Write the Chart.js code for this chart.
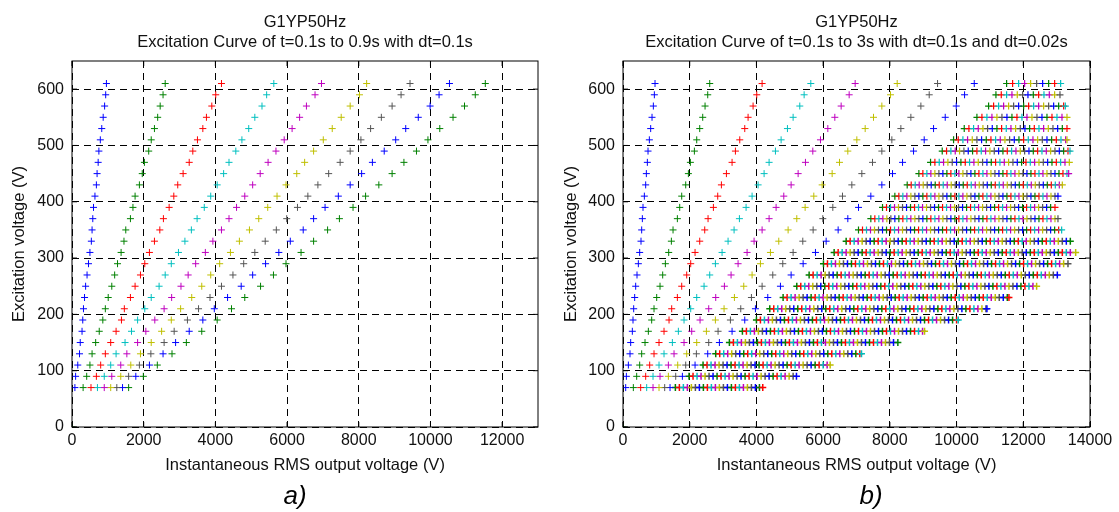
<!DOCTYPE html>
<html>
<head>
<meta charset="utf-8">
<title>G1YP50Hz excitation curves</title>
<script src="https://cdn.jsdelivr.net/npm/chart.js@4"></script>
<style>
  body { margin: 0; background: #fff; }
  .panel { position: absolute; top: 0; }
  #chartA { left: 0; }
  #chartB { left: 560px; }
</style>
</head>
<body>
<canvas id="chartA" class="panel" width="560" height="512"></canvas>
<canvas id="chartB" class="panel" width="559" height="512"></canvas>
<script>
// excitation voltage rows (V), bottom to top
const voltRows = [70, 90, 110, 130, 150, 170, 190, 210, 230, 250, 270, 290, 310, 330,
  350, 370, 390, 410, 430, 450, 470, 490, 510, 530, 550, 570, 590, 610];

// RMS output voltage (V) for each time step, one value per row
const t01 = [81, 101, 161, 210, 230, 280, 300, 320, 350, 380, 420, 460, 500, 540, 560, 580, 600, 640, 680, 700, 730, 750, 790, 830, 870, 910, 940, 960];
const t02 = [310, 410, 500, 560, 660, 760, 860, 930, 1010, 1110, 1190, 1270, 1370, 1450, 1500, 1630, 1700, 1760, 1880, 1960, 2020, 2140, 2210, 2300, 2390, 2460, 2540, 2600];
const t03 = [530, 680, 800, 930, 1080, 1230, 1380, 1460, 1630, 1760, 1910, 2030, 2160, 2300, 2450, 2550, 2710, 2840, 2950, 3100, 3270, 3370, 3500, 3650, 3750, 3900, 4010, 4170];
const t04 = [710, 900, 1080, 1230, 1480, 1660, 1830, 2030, 2210, 2430, 2600, 2770, 2970, 3150, 3330, 3490, 3690, 3870, 4050, 4230, 4380, 4570, 4740, 4930, 5100, 5300, 5430, 5630];
const t05 = [900, 1110, 1360, 1530, 1830, 2060, 2310, 2570, 2780, 3040, 3240, 3450, 3720, 3930, 4170, 4380, 4590, 4820, 5040, 5250, 5470, 5690, 5920, 6140, 6350, 6540, 6780, 6960];
const t06 = [1080, 1360, 1640, 1910, 2210, 2500, 2770, 3030, 3340, 3620, 3870, 4120, 4420, 4670, 4950, 5210, 5460, 5720, 5970, 6270, 6490, 6740, 7010, 7260, 7510, 7760, 8020, 8220];
const t07 = [1250, 1580, 1880, 2200, 2570, 2850, 3220, 3530, 3850, 4170, 4490, 4790, 5100, 5390, 5700, 5990, 6290, 6580, 6860, 7160, 7480, 7760, 8060, 8330, 8630, 8930, 9180, 9430];
const t08 = [1410, 1780, 2160, 2540, 2890, 3270, 3650, 3970, 4340, 4720, 5040, 5400, 5770, 6090, 6450, 6740, 7060, 7430, 7760, 8080, 8380, 8710, 9030, 9310, 9660, 9990, 10240, 10530];
const t09 = [1580, 1990, 2380, 2790, 3190, 3620, 4050, 4450, 4820, 5260, 5620, 5970, 6390, 6740, 7130, 7460, 7840, 8190, 8560, 8930, 9260, 9610, 9930, 10260, 10630, 10950, 11250, 11530];

// panel b, dt=0.02s part: crowded markers on each row (V)
const band070 = [1570, 1690, 1810, 1930, 2050, 2170, 2290, 2410, 2530, 2650, 2770, 2890, 3010, 3130, 3250, 3370, 3490, 3610, 3730, 3850, 3970, 4090, 4190];
const band090 = [1980, 2100, 2220, 2340, 2460, 2580, 2700, 2820, 2940, 3060, 3180, 3300, 3420, 3540, 3660, 3780, 3900, 4020, 4140, 4260, 4380, 4500, 4620, 4740, 4860, 4980, 5100, 5200];
const band110 = [2400, 2520, 2640, 2760, 2880, 3000, 3120, 3240, 3360, 3480, 3600, 3720, 3840, 3960, 4080, 4200, 4320, 4440, 4560, 4680, 4800, 4920, 5040, 5160, 5280, 5400, 5520, 5640, 5760, 5880, 6000, 6120, 6210];
const band130 = [2780, 2900, 3020, 3140, 3260, 3380, 3500, 3620, 3740, 3860, 3980, 4100, 4220, 4340, 4460, 4580, 4700, 4820, 4940, 5060, 5180, 5300, 5420, 5540, 5660, 5780, 5900, 6020, 6140, 6260, 6380, 6500, 6620, 6740, 6860, 6980, 7100, 7150];
const band150 = [3190, 3310, 3430, 3550, 3670, 3790, 3910, 4030, 4150, 4270, 4390, 4510, 4630, 4750, 4870, 4990, 5110, 5230, 5350, 5470, 5590, 5710, 5830, 5950, 6070, 6190, 6310, 6430, 6550, 6670, 6790, 6910, 7030, 7150, 7270, 7390, 7510, 7630, 7750, 7870, 7990, 8110, 8240];
const band170 = [3580, 3700, 3820, 3940, 4060, 4180, 4300, 4420, 4540, 4660, 4780, 4900, 5020, 5140, 5260, 5380, 5500, 5620, 5740, 5860, 5980, 6100, 6220, 6340, 6460, 6580, 6700, 6820, 6940, 7060, 7180, 7300, 7420, 7540, 7660, 7780, 7900, 8020, 8140, 8260, 8380, 8500, 8620, 8740, 8860, 8980, 9040];
const band190 = [4000, 4120, 4240, 4360, 4480, 4600, 4720, 4840, 4960, 5080, 5200, 5320, 5440, 5560, 5680, 5800, 5920, 6040, 6160, 6280, 6400, 6520, 6640, 6760, 6880, 7000, 7120, 7240, 7360, 7480, 7600, 7720, 7840, 7960, 8080, 8200, 8320, 8440, 8560, 8680, 8800, 8920, 9040, 9160, 9280, 9400, 9520, 9640, 9760, 9880, 10000, 10050];
const band210 = [4400, 4520, 4640, 4760, 4880, 5000, 5120, 5240, 5360, 5480, 5600, 5720, 5840, 5960, 6080, 6200, 6320, 6440, 6560, 6680, 6800, 6920, 7040, 7160, 7280, 7400, 7520, 7640, 7760, 7880, 8000, 8120, 8240, 8360, 8480, 8600, 8720, 8840, 8960, 9080, 9200, 9320, 9440, 9560, 9680, 9800, 9920, 10040, 10160, 10280, 10400, 10520, 10640, 10760, 10880, 10910];
const band230 = [4800, 4920, 5040, 5160, 5280, 5400, 5520, 5640, 5760, 5880, 6000, 6120, 6240, 6360, 6480, 6600, 6720, 6840, 6960, 7080, 7200, 7320, 7440, 7560, 7680, 7800, 7920, 8040, 8160, 8280, 8400, 8520, 8640, 8760, 8880, 9000, 9120, 9240, 9360, 9480, 9600, 9720, 9840, 9960, 10080, 10200, 10320, 10440, 10560, 10680, 10800, 10920, 11040, 11160, 11280, 11400, 11520, 11570];
const band250 = [5210, 5330, 5450, 5570, 5690, 5810, 5930, 6050, 6170, 6290, 6410, 6530, 6650, 6770, 6890, 7010, 7130, 7250, 7370, 7490, 7610, 7730, 7850, 7970, 8090, 8210, 8330, 8450, 8570, 8690, 8810, 8930, 9050, 9170, 9290, 9410, 9530, 9650, 9770, 9890, 10010, 10130, 10250, 10370, 10490, 10610, 10730, 10850, 10970, 11090, 11210, 11330, 11450, 11570, 11690, 11810, 11930, 12050, 12170, 12290, 12400];
const band270 = [5580, 5700, 5820, 5940, 6060, 6180, 6300, 6420, 6540, 6660, 6780, 6900, 7020, 7140, 7260, 7380, 7500, 7620, 7740, 7860, 7980, 8100, 8220, 8340, 8460, 8580, 8700, 8820, 8940, 9060, 9180, 9300, 9420, 9540, 9660, 9780, 9900, 10020, 10140, 10260, 10380, 10500, 10620, 10740, 10860, 10980, 11100, 11220, 11340, 11460, 11580, 11700, 11820, 11940, 12060, 12180, 12300, 12420, 12540, 12660, 12780, 12900, 13020];
const band290 = [6010, 6130, 6250, 6370, 6490, 6610, 6730, 6850, 6970, 7090, 7210, 7330, 7450, 7570, 7690, 7810, 7930, 8050, 8170, 8290, 8410, 8530, 8650, 8770, 8890, 9010, 9130, 9250, 9370, 9490, 9610, 9730, 9850, 9970, 10090, 10210, 10330, 10450, 10570, 10690, 10810, 10930, 11050, 11170, 11290, 11410, 11530, 11650, 11770, 11890, 12010, 12130, 12250, 12370, 12490, 12610, 12730, 12850, 12970, 13090, 13210, 13340];
const band310 = [6330, 6450, 6570, 6690, 6810, 6930, 7050, 7170, 7290, 7410, 7530, 7650, 7770, 7890, 8010, 8130, 8250, 8370, 8490, 8610, 8730, 8850, 8970, 9090, 9210, 9330, 9450, 9570, 9690, 9810, 9930, 10050, 10170, 10290, 10410, 10530, 10650, 10770, 10890, 11010, 11130, 11250, 11370, 11490, 11610, 11730, 11850, 11970, 12090, 12210, 12330, 12450, 12570, 12690, 12810, 12930, 13050, 13170, 13290, 13410, 13570];
const band330 = [6690, 6810, 6930, 7050, 7170, 7290, 7410, 7530, 7650, 7770, 7890, 8010, 8130, 8250, 8370, 8490, 8610, 8730, 8850, 8970, 9090, 9210, 9330, 9450, 9570, 9690, 9810, 9930, 10050, 10170, 10290, 10410, 10530, 10650, 10770, 10890, 11010, 11130, 11250, 11370, 11490, 11610, 11730, 11850, 11970, 12090, 12210, 12330, 12450, 12570, 12690, 12810, 12930, 13050, 13170, 13290, 13410];
const band350 = [7060, 7180, 7300, 7420, 7540, 7660, 7780, 7900, 8020, 8140, 8260, 8380, 8500, 8620, 8740, 8860, 8980, 9100, 9220, 9340, 9460, 9580, 9700, 9820, 9940, 10060, 10180, 10300, 10420, 10540, 10660, 10780, 10900, 11020, 11140, 11260, 11380, 11500, 11620, 11740, 11860, 11980, 12100, 12220, 12340, 12460, 12580, 12700, 12820, 12940, 13060, 13150];
const band370 = [7430, 7550, 7670, 7790, 7910, 8030, 8150, 8270, 8390, 8510, 8630, 8750, 8870, 8990, 9110, 9230, 9350, 9470, 9590, 9710, 9830, 9950, 10070, 10190, 10310, 10430, 10550, 10670, 10790, 10910, 11030, 11150, 11270, 11390, 11510, 11630, 11750, 11870, 11990, 12110, 12230, 12350, 12470, 12590, 12710, 12830, 12950, 13040];
const band390 = [7780, 7900, 8020, 8140, 8260, 8380, 8500, 8620, 8740, 8860, 8980, 9100, 9220, 9340, 9460, 9580, 9700, 9820, 9940, 10060, 10180, 10300, 10420, 10540, 10660, 10780, 10900, 11020, 11140, 11260, 11380, 11500, 11620, 11740, 11860, 11980, 12100, 12220, 12340, 12460, 12580, 12700, 12820, 12950];
const band410 = [8150, 8270, 8390, 8510, 8630, 8750, 8870, 8990, 9110, 9230, 9350, 9470, 9590, 9710, 9830, 9950, 10070, 10190, 10310, 10430, 10550, 10670, 10790, 10910, 11030, 11150, 11270, 11390, 11510, 11630, 11750, 11870, 11990, 12110, 12230, 12350, 12470, 12590, 12710, 12830, 12950, 13040];
const band430 = [8520, 8640, 8760, 8880, 9000, 9120, 9240, 9360, 9480, 9600, 9720, 9840, 9960, 10080, 10200, 10320, 10440, 10560, 10680, 10800, 10920, 11040, 11160, 11280, 11400, 11520, 11640, 11760, 11880, 12000, 12120, 12240, 12360, 12480, 12600, 12720, 12840, 12960, 13080, 13170];
const band450 = [8870, 8990, 9110, 9230, 9350, 9470, 9590, 9710, 9830, 9950, 10070, 10190, 10310, 10430, 10550, 10670, 10790, 10910, 11030, 11150, 11270, 11390, 11510, 11630, 11750, 11870, 11990, 12110, 12230, 12350, 12470, 12590, 12710, 12830, 12950, 13070, 13190, 13310, 13360];
const band470 = [9220, 9350, 9480, 9610, 9740, 9870, 10000, 10130, 10260, 10390, 10520, 10650, 10780, 10910, 11040, 11170, 11300, 11430, 11560, 11690, 11820, 11950, 12080, 12210, 12340, 12470, 12600, 12730, 12860, 12990, 13120, 13250, 13380];
const band490 = [9570, 9700, 9830, 9960, 10090, 10220, 10350, 10480, 10610, 10740, 10870, 11000, 11130, 11260, 11390, 11520, 11650, 11780, 11910, 12040, 12170, 12300, 12430, 12560, 12690, 12820, 12950, 13080, 13210, 13340, 13400];
const band510 = [9910, 10050, 10190, 10330, 10470, 10610, 10750, 10890, 11030, 11170, 11310, 11450, 11590, 11730, 11870, 12010, 12150, 12290, 12430, 12570, 12710, 12850, 12990, 13130, 13270, 13310];
const band530 = [10230, 10370, 10510, 10650, 10790, 10930, 11070, 11210, 11350, 11490, 11630, 11770, 11910, 12050, 12190, 12330, 12470, 12610, 12750, 12890, 13030, 13170, 13310];
const band550 = [10610, 10760, 10910, 11060, 11210, 11360, 11510, 11660, 11810, 11960, 12110, 12260, 12410, 12560, 12710, 12860, 13010, 13160, 13310];
const band570 = [10960, 11110, 11260, 11410, 11560, 11710, 11860, 12010, 12160, 12310, 12460, 12610, 12760, 12910, 13060, 13210, 13260];
const band590 = [11180, 11340, 11500, 11660, 11820, 11980, 12140, 12300, 12460, 12620, 12780, 12940, 13100];
const band610 = [11500, 11680, 11860, 12040, 12220, 12400, 12580, 12760, 12940, 13120];

const xTicksA = [0, 2000, 4000, 6000, 8000, 10000, 12000];
const xTicksB = [0, 2000, 4000, 6000, 8000, 10000, 12000, 14000];
const yTicks = [0, 100, 200, 300, 400, 500, 600];

// matlab default order: b g r c m y k
const lineColors = ['#0000ff', '#008000', '#ff0000', '#00bfbf', '#bf00bf', '#bfbf00', '#555555'];
const FONT = '"Liberation Sans", Arial, Helvetica, sans-serif';

const rowPoints = (xs) => xs.map((x, i) => ({ x: x, y: voltRows[i] }));

const crossSet = (points, color, width) => ({
  data: points,
  pointStyle: 'cross',
  pointRadius: 3.5,
  pointHoverRadius: 3.5,
  pointBorderWidth: width || 1,
  pointBorderColor: color,
  pointBackgroundColor: color,
  showLine: false
});

const framePlugin = {
  id: 'frame',
  afterDraw(chart, args, opts) {
    const { ctx, chartArea: area, scales } = chart;
    ctx.save();
    ctx.strokeStyle = '#000';
    ctx.lineWidth = 1;
    ctx.strokeRect(area.left, area.top, area.right - area.left, area.bottom - area.top);
    ctx.beginPath();
    scales.x.ticks.forEach((t) => {
      const px = scales.x.getPixelForValue(t.value);
      ctx.moveTo(px, area.bottom); ctx.lineTo(px, area.bottom - 5);
      ctx.moveTo(px, area.top); ctx.lineTo(px, area.top + 5);
    });
    scales.y.ticks.forEach((t) => {
      const py = scales.y.getPixelForValue(t.value);
      ctx.moveTo(area.left, py); ctx.lineTo(area.left + 5, py);
      ctx.moveTo(area.right, py); ctx.lineTo(area.right - 5, py);
    });
    ctx.stroke();
    ctx.font = 'italic 26px ' + FONT;
    ctx.fillStyle = '#000';
    ctx.textAlign = 'center';
    ctx.textBaseline = 'middle';
    ctx.fillText(opts.caption, opts.captionX, 497);
    ctx.restore();
  }
};

function makeOptions(cfg) {
  return {
    responsive: false,
    animation: false,
    events: [],
    layout: { padding: { left: cfg.padLeft, right: cfg.padRight, top: 0, bottom: 0 } },
    plugins: {
      legend: { display: false },
      tooltip: { enabled: false },
      title: {
        display: true,
        fullSize: false,
        text: cfg.title,
        color: '#111',
        font: { family: FONT, size: 16.5, weight: 'normal', lineHeight: 1.2 },
        padding: { top: 12.8, bottom: 8.6 }
      },
      frame: { caption: cfg.caption, captionX: cfg.captionX }
    },
    scales: {
      x: {
        type: 'linear',
        min: 0,
        max: cfg.xMax,
        afterBuildTicks: (s) => { s.ticks = cfg.xTicks.map((v) => ({ value: v })); },
        afterFit: (s) => { s.height = 85; },
        ticks: {
          autoSkip: false, maxRotation: 0, padding: 4, color: '#111',
          font: { family: FONT, size: 16 },
          callback: (v) => String(v)
        },
        grid: { color: '#000', lineWidth: 1, drawTicks: false },
        border: { display: false, dash: [7, 5] },
        title: {
          display: true,
          text: 'Instantaneous RMS output voltage (V)',
          color: '#111',
          font: { family: FONT, size: 16.5 },
          padding: { top: 0, bottom: 37 }
        }
      },
      y: {
        type: 'linear',
        min: 0,
        max: 650,
        afterBuildTicks: (s) => { s.ticks = yTicks.map((v) => ({ value: v })); },
        afterFit: (s) => { s.width = cfg.yWidth; },
        ticks: {
          autoSkip: false, padding: 8, color: '#111',
          font: { family: FONT, size: 16 },
          callback: (v) => String(v)
        },
        grid: { color: '#000', lineWidth: 1, drawTicks: false },
        border: { display: false, dash: [7, 5] },
        title: {
          display: true,
          text: 'Excitation voltage (V)',
          color: '#111',
          font: { family: FONT, size: 16.5 },
          padding: { top: 0, bottom: 0 }
        }
      }
    }
  };
}

// panel a: t = 0.1 .. 0.9 s
const seriesA = [t01, t02, t03, t04, t05, t06, t07, t08, t09];
const datasetsA = [crossSet([{ x: 0, y: 0 }], lineColors[1])]
  .concat(seriesA.map((xs, k) => crossSet(rowPoints(xs), lineColors[k % 7])));

new Chart(document.getElementById('chartA'), {
  type: 'scatter',
  data: { datasets: datasetsA },
  options: makeOptions({
    title: ['G1YP50Hz', 'Excitation Curve of t=0.1s to 0.9s with dt=0.1s'],
    xMax: 13000, xTicks: xTicksA,
    padLeft: 10, yWidth: 62, padRight: 22,
    caption: 'a)', captionX: 295
  }),
  plugins: [framePlugin]
});

// panel b: coarse steps first, then the crowded dt=0.02 s band
const seriesB = [t01, t02, t03, t04, t05, t06, t07, t08];
const bandRows = [band070, band090, band110, band130, band150, band170, band190, band210,
  band230, band250, band270, band290, band310, band330, band350, band370, band390, band410,
  band430, band450, band470, band490, band510, band530, band550, band570, band590, band610];

// lower rows are packed tighter in the original, so their crosses read heavier
const datasetsB = [crossSet([{ x: 0, y: 0 }], lineColors[1])]
  .concat(seriesB.map((xs, k) => crossSet(rowPoints(xs), lineColors[k % 7])))
  .concat(bandRows.map((xs, r) => crossSet(
    xs.map((x) => ({ x: x, y: voltRows[r] })),
    xs.map((x, i) => lineColors[(i + 1) % 7]),
    voltRows[r] <= 330 ? 1.5 : 1.2
  )));

new Chart(document.getElementById('chartB'), {
  type: 'scatter',
  data: { datasets: datasetsB },
  options: makeOptions({
    title: ['G1YP50Hz', 'Excitation Curve of t=0.1s to 3s with dt=0.1s and dt=0.02s'],
    xMax: 14000, xTicks: xTicksB,
    padLeft: 2, yWidth: 61, padRight: 29,
    caption: 'b)', captionX: 311
  }),
  plugins: [framePlugin]
});
</script>
</body>
</html>
